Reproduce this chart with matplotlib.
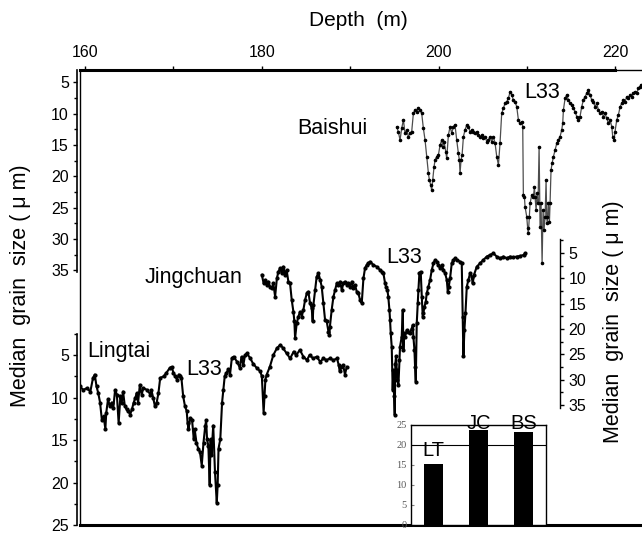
import matplotlib
matplotlib.use('Agg')
from matplotlib import pyplot as plt

plt.rcParams['font.family'] = ['Liberation Sans', 'DejaVu Sans']

# ---- data (depth in m, median grain size in um) ----
lt_depth = [159.4, 159.8, 160.2, 160.6, 160.9, 161.1, 161.3, 161.5, 161.7, 161.9,
            162.1, 162.3, 162.4, 162.6, 162.8, 163.0, 163.2, 163.4, 163.6, 163.8,
            164.0, 164.15, 164.3, 164.5, 164.7, 164.9, 165.1, 165.3, 165.5, 165.7,
            165.85, 166.0, 166.2, 166.4, 166.6, 167.0, 167.4, 167.5, 167.7, 167.9,
            168.1, 168.3, 168.5, 168.9, 169.2, 169.6, 169.8, 170.0, 170.2, 170.4,
            170.6, 170.75, 170.9, 171.1, 171.3, 171.5, 171.6, 171.7, 171.9, 172.1,
            172.3, 172.4, 172.6, 172.8, 173.0, 173.2, 173.4, 173.6, 173.7, 173.8,
            173.95, 174.1, 174.2, 174.3, 174.5, 174.7, 174.9, 175.0, 175.1, 175.3,
            175.5, 175.65, 175.8, 176.0, 176.2, 176.4, 176.6, 176.8, 177.2, 177.5,
            177.7, 177.9, 178.1, 178.3, 178.7, 179.0, 179.4, 179.8, 180.0, 180.2,
            180.3, 180.4, 180.55, 180.9, 181.3, 181.7, 182.1, 182.4, 182.8, 183.2,
            183.6, 183.9, 184.3, 184.7, 185.1, 185.4, 185.8, 186.2, 186.6, 186.96,
            187.3, 187.7, 188.1, 188.5, 188.7, 188.8, 189.0, 189.2, 189.4, 189.6]
lt_value = [8.7, 9.1, 8.9, 9.3, 7.7, 7.3, 8.7, 9.5, 10.6, 12.6,
            12.2, 13.7, 11.8, 10.2, 11.0, 10.6, 11.2, 9.1, 9.65, 13.0,
            9.85, 10.6, 9.3, 11.0, 11.4, 11.6, 12.0, 11.4, 10.6, 10.0,
            9.5, 10.6, 8.5, 9.65, 8.9, 9.1, 9.65, 9.1, 10.0, 11.0,
            10.6, 9.5, 7.7, 7.5, 7.1, 6.5, 6.4, 7.1, 7.5, 7.9,
            7.3, 7.5, 7.7, 9.85, 11.0, 11.6, 13.0, 13.7, 12.4, 12.6,
            14.9, 13.7, 15.3, 16.0, 16.4, 18.0, 15.3, 13.3, 12.7, 14.9,
            15.7, 20.3, 14.9, 16.8, 13.3, 18.8, 22.4, 20.3, 16.0, 14.9,
            10.6, 9.1, 7.5, 7.1, 6.7, 7.3, 5.4, 5.2, 5.8, 6.5,
            5.2, 6.2, 5.0, 4.8, 5.4, 6.0, 6.5, 6.9, 7.5, 11.8,
            9.85, 7.9, 7.3, 6.4, 5.0, 4.2, 3.8, 4.2, 4.8, 5.4,
            4.6, 5.0, 4.4, 5.2, 5.6, 5.0, 5.4, 5.2, 5.8, 5.4,
            5.6, 5.4, 5.6, 5.4, 6.2, 6.9, 6.4, 6.2, 7.3, 6.4]

jc_depth = [180.0, 180.2, 180.4, 180.55, 180.74, 180.93, 181.12, 181.3, 181.5, 181.7,
            181.87, 182.06, 182.25, 182.44, 182.6, 182.8, 183.0, 183.19, 183.38, 183.57,
            183.68, 183.76, 183.94, 184.13, 184.32, 184.51, 184.7, 184.89, 185.08, 185.26,
            185.45, 185.64, 185.75, 185.83, 186.02, 186.2, 186.4, 186.6, 186.77, 186.96,
            187.15, 187.34, 187.53, 187.64, 187.7, 187.9, 188.1, 188.28, 188.47, 188.66,
            188.85, 189.04, 189.22, 189.41, 189.6, 189.79, 189.98, 190.17, 190.36, 190.54,
            190.73, 190.92, 191.11, 191.3, 191.49, 191.67, 191.86, 192.05, 192.24, 192.62,
            193.0, 193.37, 193.56, 193.75, 193.94, 194.05, 194.2, 194.3, 194.43, 194.5,
            194.58, 194.69, 194.8, 194.88, 194.96, 195.03, 195.1, 195.18, 195.26, 195.33,
            195.45, 195.56, 195.63, 195.82, 195.94, 196.01, 196.09, 196.2, 196.39, 196.58,
            196.77, 196.95, 197.07, 197.14, 197.26, 197.33, 197.41, 197.52, 197.63, 197.71,
            197.82, 197.97, 198.09, 198.2, 198.27, 198.39, 198.54, 198.65, 198.84, 199.03,
            199.22, 199.41, 199.6, 199.78, 199.97, 200.16, 200.35, 200.54, 200.73, 200.92,
            201.03, 201.14, 201.29, 201.48, 201.67, 201.86, 202.05, 202.42, 202.61, 202.72,
            202.8, 202.91, 203.03, 203.18, 203.37, 203.55, 203.74, 203.85, 204.0, 204.31,
            204.68, 205.06, 205.44, 205.8, 206.19, 206.57, 206.95, 207.33, 207.7, 208.08,
            208.46, 208.83, 209.2, 209.6, 209.8]
jc_value = [9.3, 11.0, 10.3, 11.3, 10.65, 11.64, 11.97, 11.0, 13.6, 10.0,
            8.7, 8.0, 9.0, 7.7, 9.3, 8.35, 10.65, 11.0, 14.27, 16.6,
            18.5, 21.8, 18.9, 17.56, 16.6, 17.56, 16.2, 14.27, 12.96, 12.63,
            14.9, 15.9, 18.5, 15.26, 12.3, 9.67, 9.0, 10.3, 11.64, 14.9,
            18.2, 18.5, 20.5, 21.2, 19.5, 16.2, 13.6, 12.3, 11.0, 11.3,
            10.65, 12.3, 11.0, 10.65, 11.3, 11.0, 11.64, 10.65, 11.97, 11.3,
            12.6, 12.96, 14.27, 14.9, 10.0, 8.0, 7.37, 7.04, 6.7, 7.37,
            7.7, 8.35, 8.7, 9.0, 11.0, 11.64, 12.3, 13.6, 16.2, 18.2,
            20.85, 23.5, 32.0, 28.1, 33.3, 36.95, 26.8, 25.4, 28.1, 30.05,
            31.0, 26.1, 23.5, 21.5, 16.2, 24.1, 20.85, 21.5, 20.2, 20.5,
            20.85, 19.9, 19.2, 21.5, 24.1, 27.4, 30.4, 18.9, 14.9, 12.3,
            9.0, 8.7, 13.6, 17.56, 16.9, 15.6, 14.6, 12.96, 11.64, 10.3,
            8.35, 7.04, 6.38, 6.7, 7.37, 8.0, 7.37, 8.35, 9.0, 10.3,
            12.63, 11.64, 10.0, 7.04, 6.38, 6.05, 6.38, 6.7, 7.04, 17.56,
            25.4, 20.2, 16.9, 11.64, 10.3, 9.0, 9.67, 11.0, 9.3, 7.7,
            7.04, 6.38, 5.7, 5.4, 5.07, 5.7, 6.05, 5.7, 6.05, 5.7,
            5.85, 5.7, 5.6, 5.4, 5.07]

bs_depth = [195.25, 195.44, 195.63, 195.82, 196.01, 196.2, 196.39, 196.57, 196.76, 196.95,
            197.14, 197.33, 197.52, 197.7, 197.89, 198.08, 198.27, 198.46, 198.65, 198.84,
            198.95, 199.1, 199.21, 199.33, 199.48, 199.59, 199.78, 199.97, 200.16, 200.35,
            200.46, 200.61, 200.8, 200.91, 201.1, 201.29, 201.48, 201.66, 201.85, 202.04,
            202.23, 202.34, 202.42, 202.53, 202.65, 202.8, 202.98, 203.17, 203.36, 203.55,
            203.74, 203.93, 204.12, 204.3, 204.49, 204.68, 204.87, 205.06, 205.25, 205.44,
            205.62, 205.81, 206.0, 206.19, 206.38, 206.57, 206.76, 206.94, 207.13, 207.32,
            207.51, 207.7, 207.89, 208.08, 208.26, 208.45, 208.64, 208.83, 209.02, 209.21,
            209.4, 209.51, 209.58, 209.7, 209.77, 209.96, 210.07, 210.15, 210.26, 210.34,
            210.53, 210.72, 210.83, 210.9, 211.02, 211.13, 211.24, 211.36, 211.47, 211.58,
            211.7, 211.81, 211.92, 212.04, 212.15, 212.22, 212.3, 212.41, 212.53, 212.6,
            212.71, 212.83, 212.98, 213.17, 213.36, 213.54, 213.73, 213.92, 214.03, 214.11,
            214.3, 214.49, 214.67, 214.86, 215.05, 215.24, 215.43, 215.62, 215.81, 215.99,
            216.18, 216.37, 216.56, 216.75, 216.94, 217.13, 217.31, 217.5, 217.69, 217.88,
            218.07, 218.26, 218.45, 218.63, 218.82, 219.01, 219.2, 219.39, 219.58, 219.69,
            219.84, 219.95, 220.14, 220.33, 220.52, 220.71, 220.9, 221.09, 221.27, 221.46,
            221.65, 221.84, 222.03, 222.22, 222.41, 222.59, 222.78, 222.86]
bs_value = [12.1, 12.9, 14.2, 12.34, 11.0, 13.14, 12.6, 13.67, 13.14, 12.87,
            9.95, 9.42, 9.68, 9.15, 9.42, 9.95, 12.34, 14.2, 16.86, 19.52,
            20.58, 21.38, 22.2, 20.58, 18.45, 17.39, 16.86, 16.59, 15.0, 14.2,
            15.27, 14.47, 16.06, 17.13, 13.4, 12.07, 13.14, 12.07, 11.81, 14.2,
            16.33, 17.39, 19.52, 17.39, 16.59, 13.67, 12.6, 11.81, 12.07, 12.87,
            12.6, 12.87, 13.14, 12.87, 13.4, 13.67, 13.4, 13.94, 13.67, 14.47,
            14.2, 13.67, 14.47, 13.67, 14.73, 16.86, 18.19, 14.73, 9.95, 9.15,
            8.35, 8.09, 7.56, 6.49, 7.0, 7.82, 8.09, 8.9, 11.01, 11.54,
            11.28, 12.07, 22.97, 23.24, 24.83, 26.43, 28.29, 29.09, 26.43, 24.3,
            22.97, 23.24, 21.64, 23.24, 25.37, 22.71, 24.3, 15.27, 28.02, 24.3,
            33.87, 25.37, 28.55, 26.43, 20.58, 26.43, 27.49, 24.3, 27.23, 24.3,
            18.99, 17.92, 16.86, 15.8, 14.73, 14.2, 13.67, 12.6, 11.54, 9.42,
            7.56, 7.0, 7.82, 8.35, 8.62, 9.15, 9.68, 10.48, 11.01, 10.48,
            8.9, 7.82, 7.29, 6.76, 6.23, 7.0, 7.82, 8.09, 8.9, 8.35,
            9.42, 9.95, 9.68, 10.48, 9.95, 10.75, 11.54, 11.01, 12.07, 13.67,
            14.2, 12.87, 11.01, 10.22, 8.9, 8.35, 7.82, 8.09, 7.29, 7.56,
            7.0, 7.29, 6.76, 6.49, 6.76, 5.96, 5.7, 5.43]

inset_sites = ['LT', 'JC', 'BS']
inset_values = [15.2, 23.7, 23.3]

depth_ticks = [160, 180, 200, 220]
depth_minor = [170, 190, 210]
bs_ticks = [5, 10, 15, 20, 25, 30, 35]
jc_ticks = [5, 10, 15, 20, 25, 30, 35]
lt_ticks = [5, 10, 15, 20, 25]
inset_ticks = [0, 5, 10, 15, 20, 25]

# ---- layout ----
FIG_W, FIG_H = 642, 534
FRAME = [80 / FIG_W, 9 / FIG_H, 562 / FIG_W, 455 / FIG_H]
XLIM = (159.43, 223.0)
BS_YLIM = (75.6, 3.04)
JC_YLIM = (58.65, -31.09)
LT_YLIM = (25.0, -28.53)
TICK_FS = 11.5
NAME_FS = 15.5
# Baishui is drawn sparse, the other two cores are dense black traces
THIN_LINE = dict(color='0.3', linewidth=0.9, marker='o', markersize=1.6,
                 markerfacecolor='black', markeredgecolor='black')
DENSE_LINE = dict(color='black', linewidth=1.5, marker='o', markersize=2.0,
                  markerfacecolor='black', markeredgecolor='black')
YLABEL = 'Median  grain  size ( \u03bc m)'


def eixo_serie(fig, ylim):
    a = fig.add_axes(FRAME)
    a.set_xlim(*XLIM)
    a.set_ylim(*ylim)
    a.patch.set_visible(False)
    a.set_xticks([])
    for s in a.spines.values():
        s.set_visible(False)
    return a


def escala(a, lado, ticks, minor, bounds, ylim, pos=('outward', 2), lw=1.2):
    sp = a.spines[lado]
    sp.set_visible(True)
    sp.set_position(pos)
    sp.set_bounds(*bounds)
    sp.set_linewidth(lw)
    if lado == 'right':
        a.yaxis.tick_right()
    a.set_yticks(ticks)
    a.set_yticks(minor, minor=True)
    a.set_ylim(*ylim)
    a.tick_params(axis='y', which='major', length=3, width=1, labelsize=TICK_FS, pad=3)
    a.tick_params(axis='y', which='minor', length=2, width=1)


fig = plt.figure(figsize=(FIG_W / 100, FIG_H / 100), dpi=100)

# frame + depth axis
ax = fig.add_axes(FRAME)
ax.set_xlim(*XLIM)
ax.set_yticks([])
ax.patch.set_visible(False)
ax.xaxis.tick_top()
ax.set_xticks(depth_ticks)
ax.set_xticks(depth_minor, minor=True)
ax.tick_params(axis='x', which='both', direction='out', length=3, width=1,
               labelsize=TICK_FS, pad=4)
ax.spines['right'].set_visible(False)
ax.spines['bottom'].set_linewidth(2.2)
ax.spines['top'].set_linewidth(2.2)
ax.spines['top'].set_bounds(XLIM[0], 220)
ax.spines['left'].set_linewidth(1.0)
fig.text(358 / FIG_W, 1 - 20 / FIG_H, 'Depth  (m)', ha='center', va='center', fontsize=15)

# Baishui
ax_bs = eixo_serie(fig, BS_YLIM)
ax_bs.plot(bs_depth, bs_value, **THIN_LINE)
escala(ax_bs, 'left', bs_ticks, [t + 2.5 for t in bs_ticks[:-1]], (BS_YLIM[1], 35.3), BS_YLIM)
ax_bs.text(184.0, 12.3, 'Baishui', va='center', fontsize=NAME_FS)
ax_bs.text(209.7, 6.6, 'L33', va='center', fontsize=NAME_FS)

# Jingchuan (scale on the right, inside the frame)
ax_jc = eixo_serie(fig, JC_YLIM)
ax_jc.plot(jc_depth, jc_value, **DENSE_LINE)
escala(ax_jc, 'right', jc_ticks, [2.5] + [t + 2.5 for t in jc_ticks[:-1]], (2.2, 35.6),
       JC_YLIM, pos=('axes', 0.854), lw=1.0)
ax_jc.text(166.7, 10.9, 'Jingchuan', va='baseline', fontsize=NAME_FS)
ax_jc.text(194.1, 7.0, 'L33', va='baseline', fontsize=NAME_FS)

# Lingtai
ax_lt = eixo_serie(fig, LT_YLIM)
ax_lt.plot(lt_depth, lt_value, **DENSE_LINE)
escala(ax_lt, 'left', lt_ticks, [t - 2.5 for t in lt_ticks], (2.5, 25), LT_YLIM)
ax_lt.spines['top'].set_visible(True)
ax_lt.spines['top'].set_bounds(220, XLIM[1])
ax_lt.spines['top'].set_linewidth(1.0)
ax_lt.text(160.2, 5.2, 'Lingtai', va='baseline', fontsize=NAME_FS)
ax_lt.text(171.5, 7.3, 'L33', va='baseline', fontsize=NAME_FS)

fig.text(21 / FIG_W, 1 - 286 / FIG_H, YLABEL, rotation=90, ha='center', va='center', fontsize=15.5)
fig.text(614 / FIG_W, 1 - 322 / FIG_H, YLABEL, rotation=90, ha='center', va='center', fontsize=15.5)

# inset bar chart
ax_in = fig.add_axes([411 / FIG_W, 9 / FIG_H, 135 / FIG_W, 100 / FIG_H])
ax_in.set_facecolor('white')
x_pos = [1, 2, 3]
ax_in.bar(x_pos, inset_values, width=0.42, color='black')
ax_in.axhline(20, color='black', linewidth=0.8)
ax_in.set_xlim(0.5, 3.5)
ax_in.set_ylim(0, 25)
ax_in.set_xticks([])
ax_in.set_yticks(inset_ticks)
ax_in.tick_params(axis='y', direction='in', length=2, color='0.5', labelsize=7.5,
                  labelcolor='0.35', pad=3)
for lab in ax_in.get_yticklabels():
    lab.set_family(['Liberation Serif', 'DejaVu Serif'])
for s in ax_in.spines.values():
    s.set_linewidth(1.0)
lab_y = [17.25, 24.0, 24.0]
for xp, nome, yl in zip(x_pos, inset_sites, lab_y):
    ax_in.text(xp, yl, nome, ha='center', va='baseline', fontsize=14.5, clip_on=False)

fig.savefig('out.png', dpi=100)
